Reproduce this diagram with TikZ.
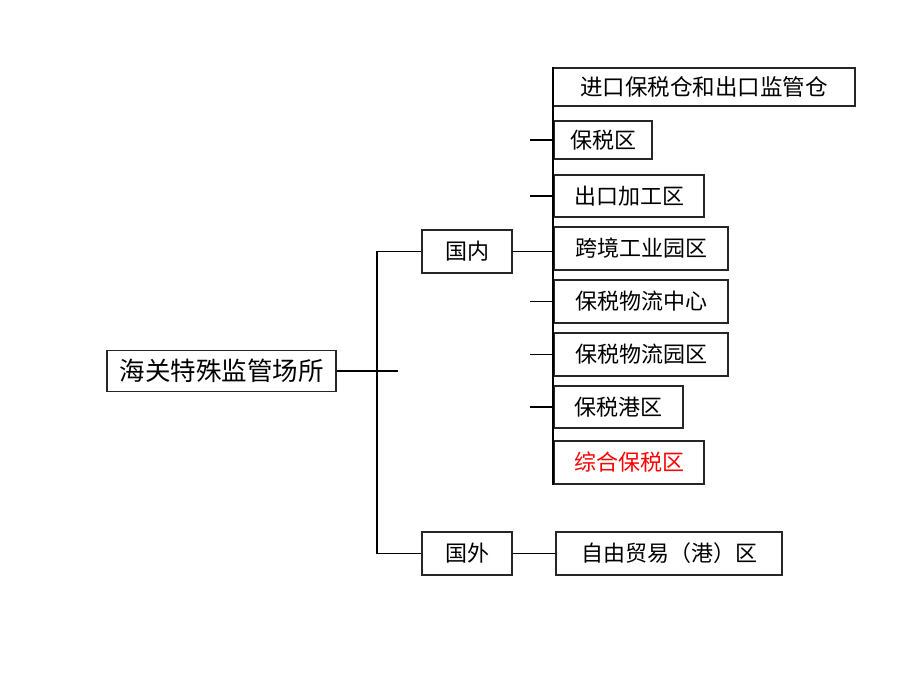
\documentclass[tikz,border=0pt]{standalone}
\usepackage{fontspec}
\setmainfont{Noto Sans CJK SC}
\begin{document}
\begin{tikzpicture}[x=1pt,y=-1pt,
  box/.style={draw=black!85,line width=1.3pt,inner sep=0pt,font=\fontsize{22}{26}\selectfont},
  bigbox/.style={box,font=\fontsize{25.5}{30}\selectfont},
  topbox/.style={box,font=\fontsize{22.5}{27}\selectfont},
  conn/.style={draw=black,line width=1.3pt}]
\useasboundingbox (0,0) rectangle (920,690);
\node[bigbox,minimum width=229pt,minimum height=41pt] (root) at (221.5,371) {海关特殊监管场所};
\node[box,minimum width=90pt,minimum height=43pt] (gn) at (467,251.5) {国内};
\node[box,minimum width=90pt,minimum height=43pt] (gw) at (467,553.5) {国外};
\node[topbox,minimum width=302pt,minimum height=38pt] (b1) at (704,87) {进口保税仓和出口监管仓};
\node[box,minimum width=98pt,minimum height=38pt] (b2) at (603,140) {保税区};
\node[box,minimum width=150pt,minimum height=42pt] (b3) at (629,196) {出口加工区};
\node[box,minimum width=174pt,minimum height=43pt] (b4) at (641,248.5) {跨境工业园区};
\node[box,minimum width=174pt,minimum height=43pt] (b5) at (641,301.5) {保税物流中心};
\node[box,minimum width=174pt,minimum height=43pt] (b6) at (641,354.5) {保税物流园区};
\node[box,minimum width=129pt,minimum height=42pt] (b7) at (618.5,407) {保税港区};
\node[box,minimum width=150pt,minimum height=43pt,text=red] (b8) at (629,462.5) {综合保税区};
\node[box,minimum width=226pt,minimum height=43pt] (b9) at (669,553.5) {自由贸易（港）区};
% left tree
\coordinate (rootend) at (398,371);
\coordinate (trunk) at (377,371);
\draw[conn] (root.east) -- (rootend);
\draw[conn] (gn.west) -- (gn.west -| trunk) -- (gw.west -| trunk) -- (gw.west);
% right tree
\coordinate (spine) at (553,0);
\draw[conn] (b1.north west -| spine) -- (b8.south west -| spine);
\draw[conn] (gn.east) -- (gn.east -| spine);
\draw[conn] (gw.east) -- (b9.west);
\foreach \b in {b2,b3,b5,b6,b7}{
  \draw[conn] ([xshift=-23pt]\b.west) -- (\b.west);
}
\end{tikzpicture}
\end{document}
